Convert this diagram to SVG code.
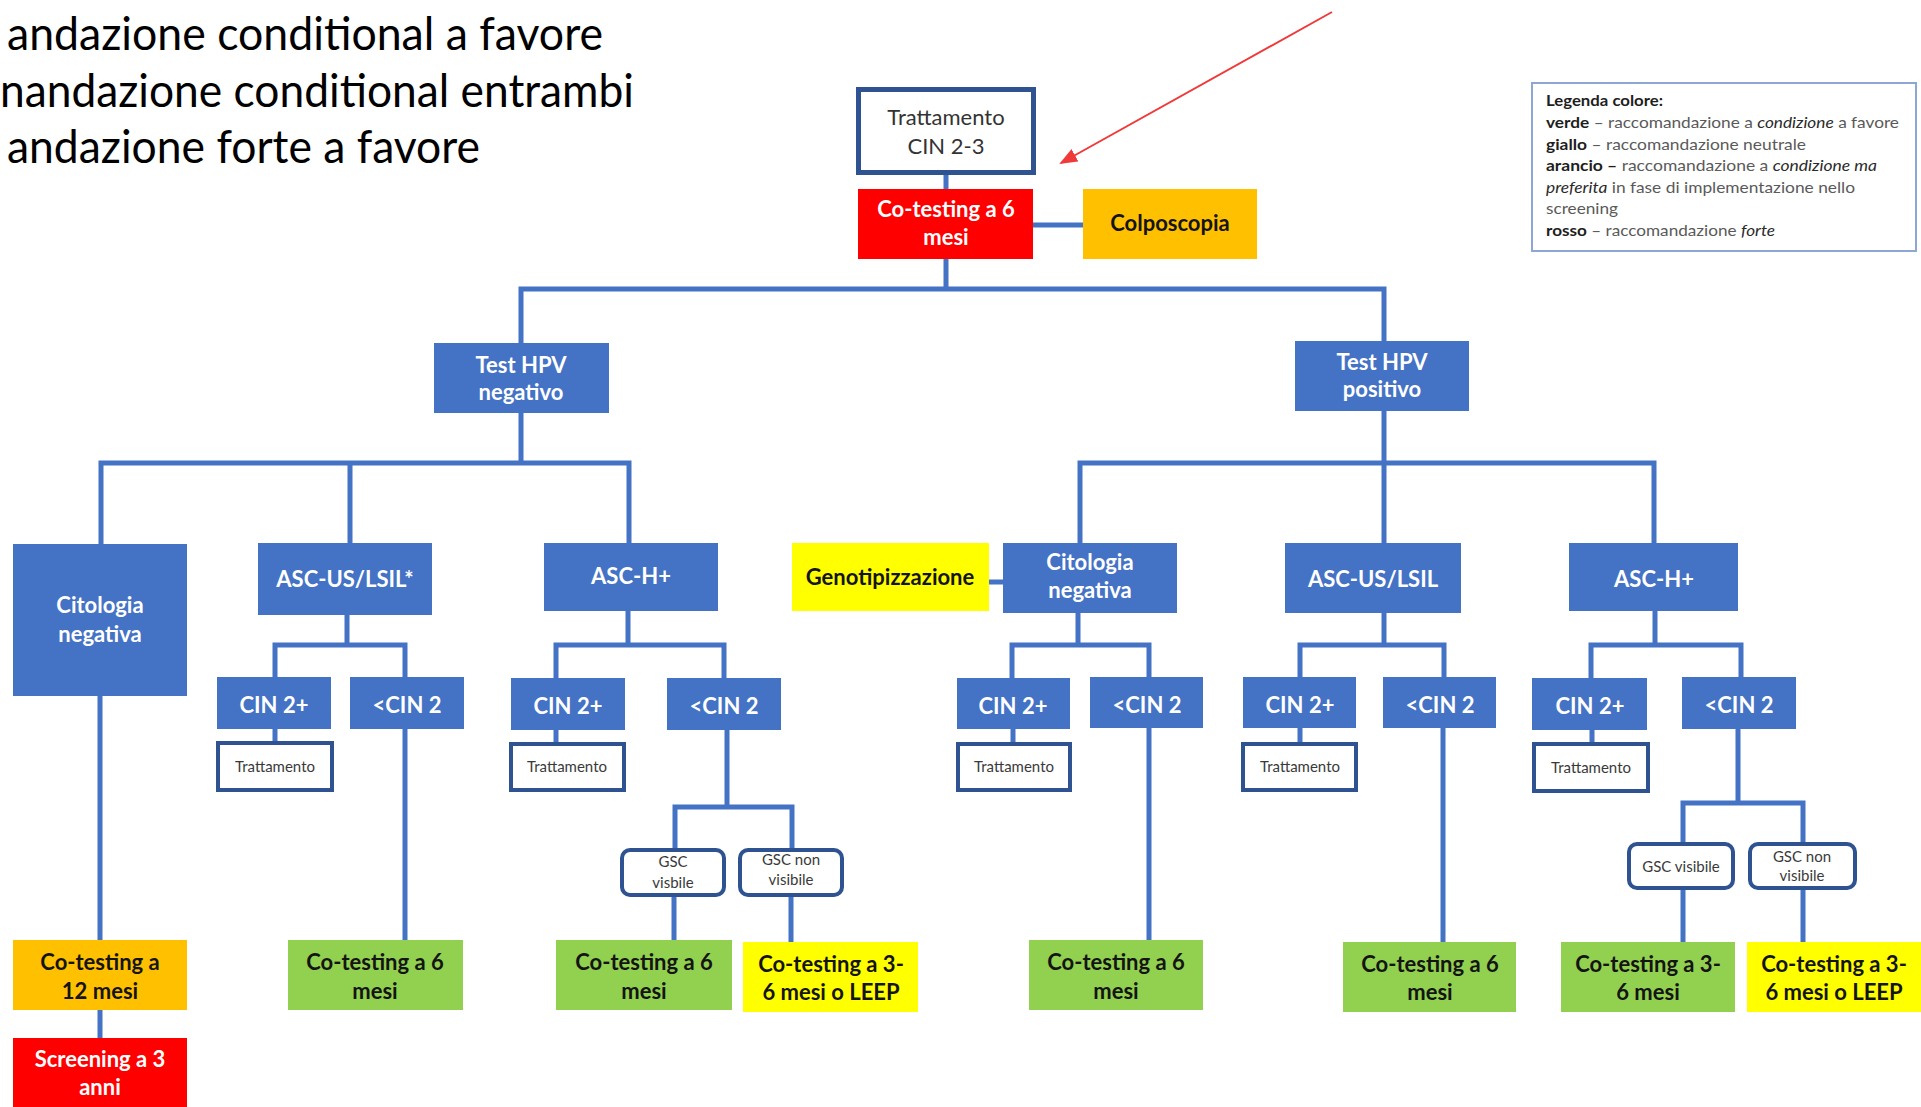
<svg xmlns="http://www.w3.org/2000/svg" width="1921" height="1107" viewBox="0 0 1921 1107">
  <style>
    text { font-family: Lato, "Liberation Sans", sans-serif; text-anchor: middle; }
    .blue { fill: #4472C4; }
    .red { fill: #FF0000; }
    .orange { fill: #FFC000; }
    .yellow { fill: #FFFF00; }
    .green { fill: #92D050; }
    .outline { fill: #FFFFFF; stroke: #2F5291; stroke-width: 4; }
    .lw { fill: #FFFFFF; font-weight: 700; font-size: 22px; }
    .lk { fill: #141414; font-weight: 700; font-size: 22px; }
    .cin { fill: #FFFFFF; font-weight: 700; font-size: 22px; }
    .small { fill: #3A3A3A; font-size: 15px; }
    .wire { fill: none; stroke: #4472C4; stroke-width: 5; stroke-linecap: square; }
    .note { fill: #000000; font-size: 46px; text-anchor: start; }
    .leg { font-size: 15px; text-anchor: start; fill: #5A5A5A; }
    .leg .b { font-weight: 700; fill: #1E1E1E; }
    .leg .i { font-style: italic; fill: #2A2A2A; }
  </style>
  <defs>
    <marker id="redhead" markerUnits="userSpaceOnUse" markerWidth="18" markerHeight="14" refX="16" refY="7" orient="auto">
      <path d="M0,0 L18,7 L0,14 Z" fill="#F03A3A"/>
    </marker>
  </defs>

  <rect width="1921" height="1107" fill="#FFFFFF"/>

  <!-- recommendation notes, top left -->
  <g id="notes">
    <text class="note" x="7" y="50" textLength="596" lengthAdjust="spacingAndGlyphs">andazione conditional a favore</text>
    <text class="note" x="0" y="107" textLength="634" lengthAdjust="spacingAndGlyphs">nandazione conditional entrambi</text>
    <text class="note" x="7" y="163" textLength="473" lengthAdjust="spacingAndGlyphs">andazione forte a favore</text>
  </g>

  <!-- pointer arrow -->
  <g id="pointer">
    <line x1="1332" y1="12" x2="1061" y2="163" stroke="#F03A3A" stroke-width="2" marker-end="url(#redhead)"/>
  </g>

  <!-- colour legend -->
  <g id="legend">
    <rect x="1532" y="83" width="384" height="168" fill="#FFFFFF" stroke="#8EA6D4" stroke-width="2"/>
    <text class="leg" x="1546" y="106" textLength="117" lengthAdjust="spacingAndGlyphs"><tspan class="b">Legenda colore:</tspan></text>
    <text class="leg" x="1546" y="128" textLength="353" lengthAdjust="spacingAndGlyphs"><tspan class="b">verde</tspan> – raccomandazione a <tspan class="i">condizione</tspan>  a favore</text>
    <text class="leg" x="1546" y="150" textLength="260" lengthAdjust="spacingAndGlyphs"><tspan class="b">giallo</tspan> – raccomandazione  neutrale</text>
    <text class="leg" x="1546" y="171" textLength="331" lengthAdjust="spacingAndGlyphs"><tspan class="b">arancio –</tspan> raccomandazione  a <tspan class="i">condizione ma</tspan></text>
    <text class="leg" x="1546" y="193" textLength="309" lengthAdjust="spacingAndGlyphs"><tspan class="i">preferita</tspan> in fase di implementazione nello</text>
    <text class="leg" x="1546" y="214" textLength="72" lengthAdjust="spacingAndGlyphs">screening</text>
    <text class="leg" x="1546" y="236" textLength="229" lengthAdjust="spacingAndGlyphs"><tspan class="b">rosso</tspan> – raccomandazione <tspan class="i">forte</tspan></text>
  </g>

  <!-- connectors -->
  <g id="connectors" class="wire">
    <path d="M946,175 V189 M1033,225 H1083 M946,259 V289 M521,289 H1384 M521,289 V343 M1384,289 V341"/>
    <path d="M521,413 V463 M101,463 H629 M101,463 V544 M350,463 V543 M629,463 V543"/>
    <path d="M1384,411 V543 M1080,463 H1654 M1080,463 V543 M1654,463 V543 M989,582 H1003"/>
    <path d="M100,696 V940 M100,1010 V1038"/>
    <path d="M347,615 V645 M275,645 H405 M275,645 V677 M405,645 V677 M275,729 V741 M405,729 V940"/>
    <path d="M628,611 V645 M556,645 H724 M556,645 V678 M724,645 V678 M556,730 V742 M727,730 V807 M675,807 H792 M675,807 V848 M792,807 V848 M674,897 V940 M791,897 V942"/>
    <path d="M1078,613 V645 M1012,645 H1149 M1012,645 V678 M1149,645 V677 M1013,729 V742 M1149,728 V940"/>
    <path d="M1384,613 V645 M1300,645 H1444 M1300,645 V677 M1444,645 V677 M1300,728 V742 M1443,728 V942"/>
    <path d="M1655,611 V645 M1591,645 H1741 M1591,645 V678 M1741,645 V677 M1592,730 V742 M1738,729 V803 M1683,803 H1803 M1683,803 V842 M1803,803 V842 M1683,890 V942 M1803,890 V942"/>
  </g>

  <!-- top of the flow -->
  <g id="trattamento-cin23">
    <rect x="858.5" y="89.5" width="175" height="83" fill="#FFFFFF" stroke="#2F5291" stroke-width="5"/>
    <text x="946" y="125" font-size="22" fill="#333333">Trattamento</text>
    <text x="946" y="154" font-size="22" fill="#333333">CIN 2-3</text>
  </g>
  <g id="cotesting-6-top">
    <rect class="red" x="858" y="189" width="175" height="70"/>
    <text class="lw" x="946" y="217">Co-testing a 6</text>
    <text class="lw" x="946" y="245">mesi</text>
  </g>
  <g id="colposcopia">
    <rect class="orange" x="1083" y="189" width="174" height="70"/>
    <text class="lk" x="1170" y="231">Colposcopia</text>
  </g>

  <!-- HPV test result -->
  <g id="hpv-negativo">
    <rect class="blue" x="434" y="343" width="175" height="70"/>
    <text class="lw" x="521" y="373">Test HPV</text>
    <text class="lw" x="521" y="400">negativo</text>
  </g>
  <g id="hpv-positivo">
    <rect class="blue" x="1295" y="341" width="174" height="70"/>
    <text class="lw" x="1382" y="370">Test HPV</text>
    <text class="lw" x="1382" y="397">positivo</text>
  </g>

  <!-- cytology, HPV negative branch -->
  <g id="citologia-neg-l">
    <rect class="blue" x="13" y="544" width="174" height="152"/>
    <text class="lw" x="100" y="613">Citologia</text>
    <text class="lw" x="100" y="642">negativa</text>
  </g>
  <g id="ascus-lsil-l">
    <rect class="blue" x="258" y="543" width="174" height="72"/>
    <text class="lw" x="345" y="587">ASC-US/LSIL*</text>
  </g>
  <g id="asch-l">
    <rect class="blue" x="544" y="543" width="174" height="68"/>
    <text class="lw" x="631" y="584">ASC-H+</text>
  </g>

  <!-- cytology, HPV positive branch -->
  <g id="genotipizzazione">
    <rect class="yellow" x="792" y="543" width="197" height="68"/>
    <text class="lk" x="890" y="585">Genotipizzazione</text>
  </g>
  <g id="citologia-neg-r">
    <rect class="blue" x="1003" y="543" width="174" height="70"/>
    <text class="lw" x="1090" y="570">Citologia</text>
    <text class="lw" x="1090" y="598">negativa</text>
  </g>
  <g id="ascus-lsil-r">
    <rect class="blue" x="1285" y="543" width="176" height="70"/>
    <text class="lw" x="1373" y="587">ASC-US/LSIL</text>
  </g>
  <g id="asch-r">
    <rect class="blue" x="1569" y="543" width="169" height="68"/>
    <text class="lw" x="1654" y="587">ASC-H+</text>
  </g>

  <!-- HPV negative / cytology negative -->
  <g id="cotesting-12">
    <rect class="orange" x="13" y="940" width="174" height="70"/>
    <text class="lk" x="100" y="970">Co-testing a</text>
    <text class="lk" x="100" y="999">12 mesi</text>
  </g>
  <g id="screening-3">
    <rect class="red" x="13" y="1038" width="174" height="80"/>
    <text class="lw" x="100" y="1067">Screening a 3</text>
    <text class="lw" x="100" y="1095">anni</text>
  </g>

  <!-- HPV negative / ASC-US/LSIL -->
  <g id="a-cin2plus">
    <rect class="blue" x="217" y="677" width="114" height="52"/>
    <text class="cin" x="274" y="713">CIN 2+</text>
  </g>
  <g id="a-cin2minus">
    <rect class="blue" x="350" y="677" width="114" height="52"/>
    <text class="cin" x="407" y="713">&lt;CIN 2</text>
  </g>
  <g id="a-trattamento">
    <rect class="outline" x="218" y="743" width="114" height="47"/>
    <text class="small" x="275" y="772">Trattamento</text>
  </g>
  <g id="a-cotesting-6">
    <rect class="green" x="288" y="940" width="175" height="70"/>
    <text class="lk" x="375" y="970">Co-testing a 6</text>
    <text class="lk" x="375" y="999">mesi</text>
  </g>

  <!-- HPV negative / ASC-H+ -->
  <g id="b-cin2plus">
    <rect class="blue" x="511" y="678" width="114" height="52"/>
    <text class="cin" x="568" y="714">CIN 2+</text>
  </g>
  <g id="b-cin2minus">
    <rect class="blue" x="667" y="678" width="114" height="52"/>
    <text class="cin" x="724" y="714">&lt;CIN 2</text>
  </g>
  <g id="b-trattamento">
    <rect class="outline" x="511" y="744" width="113" height="46"/>
    <text class="small" x="567" y="772">Trattamento</text>
  </g>
  <g id="b-gsc-visibile">
    <rect class="outline" x="622" y="850" width="102" height="45" rx="8"/>
    <text class="small" x="673" y="867">GSC</text>
    <text class="small" x="673" y="888">visbile</text>
  </g>
  <g id="b-gsc-non-visibile">
    <rect class="outline" x="740" y="850" width="102" height="45" rx="8"/>
    <text class="small" x="791" y="865">GSC non</text>
    <text class="small" x="791" y="885">visibile</text>
  </g>
  <g id="b-cotesting-6">
    <rect class="green" x="556" y="940" width="176" height="70"/>
    <text class="lk" x="644" y="970">Co-testing a 6</text>
    <text class="lk" x="644" y="999">mesi</text>
  </g>
  <g id="b-cotesting-leep">
    <rect class="yellow" x="743" y="942" width="175" height="70"/>
    <text class="lk" x="831" y="972">Co-testing a 3-</text>
    <text class="lk" x="831" y="1000">6 mesi o LEEP</text>
  </g>

  <!-- HPV positive / cytology negative -->
  <g id="c-cin2plus">
    <rect class="blue" x="957" y="678" width="113" height="51"/>
    <text class="cin" x="1013" y="714">CIN 2+</text>
  </g>
  <g id="c-cin2minus">
    <rect class="blue" x="1090" y="677" width="113" height="51"/>
    <text class="cin" x="1147" y="713">&lt;CIN 2</text>
  </g>
  <g id="c-trattamento">
    <rect class="outline" x="958" y="744" width="112" height="46"/>
    <text class="small" x="1014" y="772">Trattamento</text>
  </g>
  <g id="c-cotesting-6">
    <rect class="green" x="1029" y="940" width="174" height="70"/>
    <text class="lk" x="1116" y="970">Co-testing a 6</text>
    <text class="lk" x="1116" y="999">mesi</text>
  </g>

  <!-- HPV positive / ASC-US/LSIL -->
  <g id="d-cin2plus">
    <rect class="blue" x="1243" y="677" width="113" height="51"/>
    <text class="cin" x="1300" y="713">CIN 2+</text>
  </g>
  <g id="d-cin2minus">
    <rect class="blue" x="1383" y="677" width="113" height="51"/>
    <text class="cin" x="1440" y="713">&lt;CIN 2</text>
  </g>
  <g id="d-trattamento">
    <rect class="outline" x="1243" y="744" width="113" height="46"/>
    <text class="small" x="1300" y="772">Trattamento</text>
  </g>
  <g id="d-cotesting-6">
    <rect class="green" x="1343" y="942" width="173" height="70"/>
    <text class="lk" x="1430" y="972">Co-testing a 6</text>
    <text class="lk" x="1430" y="1000">mesi</text>
  </g>

  <!-- HPV positive / ASC-H+ -->
  <g id="e-cin2plus">
    <rect class="blue" x="1532" y="678" width="115" height="52"/>
    <text class="cin" x="1590" y="714">CIN 2+</text>
  </g>
  <g id="e-cin2minus">
    <rect class="blue" x="1682" y="677" width="114" height="52"/>
    <text class="cin" x="1739" y="713">&lt;CIN 2</text>
  </g>
  <g id="e-trattamento">
    <rect class="outline" x="1534" y="744" width="114" height="47"/>
    <text class="small" x="1591" y="773">Trattamento</text>
  </g>
  <g id="e-gsc-visibile">
    <rect class="outline" x="1629" y="844" width="104" height="44" rx="8"/>
    <text class="small" x="1681" y="872">GSC visibile</text>
  </g>
  <g id="e-gsc-non-visibile">
    <rect class="outline" x="1750" y="844" width="105" height="44" rx="8"/>
    <text class="small" x="1802" y="862">GSC non</text>
    <text class="small" x="1802" y="881">visibile</text>
  </g>
  <g id="e-cotesting-36">
    <rect class="green" x="1561" y="942" width="174" height="70"/>
    <text class="lk" x="1648" y="972">Co-testing a 3-</text>
    <text class="lk" x="1648" y="1000">6 mesi</text>
  </g>
  <g id="e-cotesting-leep">
    <rect class="yellow" x="1747" y="942" width="180" height="70"/>
    <text class="lk" x="1834" y="972">Co-testing a 3-</text>
    <text class="lk" x="1834" y="1000">6 mesi o LEEP</text>
  </g>
</svg>
